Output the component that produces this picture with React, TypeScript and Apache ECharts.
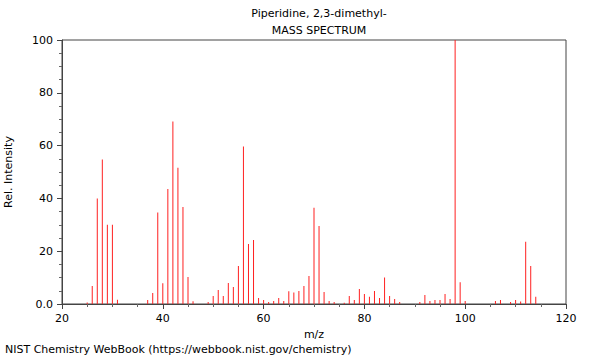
import React, { useEffect, useRef } from "react";
import * as echarts from "echarts";

const titleLines = ["Piperidine, 2,3-dimethyl-", "MASS SPECTRUM"];
const footer = "NIST Chemistry WebBook (https://webbook.nist.gov/chemistry)";

const mz = [
  25, 26, 27, 28, 29, 30, 31,
  37, 38, 39, 40, 41, 42, 43, 44, 45, 46,
  49, 50, 51, 52, 53, 54, 55, 56, 57, 58, 59, 60, 61, 62, 63, 64, 65, 66, 67, 68, 69, 70, 71, 72, 73, 74,
  76, 77, 78, 79, 80, 81, 82, 83, 84, 85, 86, 87,
  91, 92, 93, 94, 95, 96, 97, 98, 99, 100,
  106, 107,
  109, 110, 111, 112, 113, 114,
];
const intensity = [
  0.6, 6.8, 40, 54.7, 30, 30, 1.6,
  1.5, 4.2, 34.7, 7.9, 43.6, 69.1, 51.6, 36.7, 10.2, 1.0,
  0.8, 3, 5.3, 3, 8, 6.4, 14.4, 59.7, 22.7, 24.2, 2.3, 1.5, 0.8, 1.1, 2.3, 1.1, 4.8, 4.4, 4.9, 6.8, 10.6, 36.5, 29.5, 4.5, 1.1, 0.8,
  0.5, 3, 1.5, 5.7, 3.8, 2.7, 4.9, 2.3, 10, 3, 1.9, 0.8,
  0.8, 3.4, 1.1, 1.5, 1.5, 3.8, 1.9, 100, 8.2, 1.1,
  1.1, 1.5,
  0.8, 1.5, 0.9, 23.6, 14.4, 2.7,
];
const xTicks = { min: 20, max: 120, interval: 20 };
const yTicks = { min: 0, max: 100, interval: 20 };

const FONT = "DejaVu Sans";

export default function App() {
  const ref = useRef<HTMLDivElement>(null);
  useEffect(() => {
    if (!ref.current) return;
    const chart = echarts.init(ref.current, null, { renderer: "svg" });
    const axisCommon = {
      axisLine: { show: true, lineStyle: { color: "#444", width: 1 } },
      axisTick: { show: true, inside: false, length: 5, lineStyle: { color: "#444" } },
      minorTick: { show: true, splitNumber: 4, length: 3, lineStyle: { color: "#666" } },
      splitLine: { show: false },
      nameTextStyle: { fontFamily: FONT, fontSize: 11, color: "#000" },
    };
    const txt = { fontFamily: FONT, fontSize: 11, fontWeight: "normal", color: "#000" };
    chart.setOption({
      animation: false,
      textStyle: { fontFamily: FONT },
      title: [
        { text: titleLines[0], left: 314, top: 3, textAlign: "center", textStyle: txt },
        { text: titleLines[1], left: 314, top: 20, textAlign: "center", textStyle: txt },
        { text: footer, left: 3, top: 342, padding: 2, textStyle: txt },
      ],
      grid: {
        left: 62,
        right: 34,
        top: 40,
        bottom: 56,
        outerBoundsMode: "none",
        containLabel: false,
        show: true,
        borderColor: "#444",
        borderWidth: 1,
        backgroundColor: "transparent",
      },
      xAxis: {
        type: "value",
        ...xTicks,
        name: "m/z",
        nameLocation: "middle",
        nameGap: 24,
        ...axisCommon,
        axisLabel: { fontFamily: FONT, fontSize: 11, color: "#000", margin: 9 },
      },
      yAxis: {
        type: "value",
        ...yTicks,
        name: "Rel. Intensity",
        nameLocation: "middle",
        nameGap: 48,
        ...axisCommon,
        axisLabel: {
          fontFamily: FONT,
          fontSize: 11,
          color: "#000",
          margin: 9,
          formatter: (v: number) => (v === 0 ? "0.0" : String(v)),
        },
      },
      series: [
        {
          type: "bar",
          data: mz.map((m, i) => [m, intensity[i]]),
          barWidth: 1,
          itemStyle: { color: "#ff2020" },
        },
      ],
    });
    return () => chart.dispose();
  }, []);
  return (
    <div
      ref={ref}
      style={{ position: "fixed", left: 0, top: 0, width: 600, height: 360, background: "#fff" }}
    />
  );
}
